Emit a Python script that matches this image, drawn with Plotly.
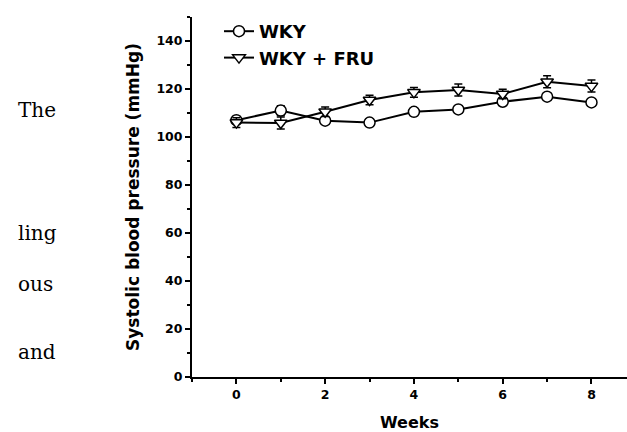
import plotly.graph_objects as go

weeks = [0, 1, 2, 3, 4, 5, 6, 7, 8]
wky = [107.0, 111.0, 106.8, 106.0, 110.5, 111.5, 114.7, 116.8, 114.4]
wky_err = [1.5, 2.0, 1.5, 1.0, 1.5, 1.5, 1.5, 1.5, 1.5]
wky_fru = [106.0, 105.8, 110.5, 115.4, 118.6, 119.6, 117.9, 123.0, 121.2]
wky_fru_err = [2.0, 2.5, 2.0, 2.0, 2.0, 2.5, 2.0, 2.5, 2.5]
series_names = ["WKY", "WKY + FRU"]
side_words = ["The", "ling", "ous", "and"]
side_baselines_px = [116, 239, 290, 358]

W, H = 627, 432
L, R, T, B = 192, 0, 17, 55
PW, PH = W - L - R, H - T - B

fig = go.Figure()
fig.add_trace(go.Scatter(
    x=weeks, y=wky, name=series_names[0], mode="lines+markers",
    line=dict(color="black", width=2),
    marker=dict(symbol="circle", size=11, color="white", line=dict(color="black", width=1.5)),
    error_y=dict(type="data", array=wky_err, color="black", thickness=1.5, width=4),
))
fig.add_trace(go.Scatter(
    x=weeks, y=wky_fru, name=series_names[1], mode="lines+markers",
    line=dict(color="black", width=2),
    marker=dict(symbol="triangle-down", size=11, color="white", line=dict(color="black", width=1.5)),
    error_y=dict(type="data", array=wky_fru_err, color="black", thickness=1.5, width=4),
))

bold = dict(family="DejaVu Sans", weight="bold", color="black")

fig.update_xaxes(
    range=[-1, 8.8], tick0=0, dtick=2, showline=True, linewidth=2, linecolor="black",
    ticks="outside", ticklen=5, tickwidth=2, tickcolor="black",
    minor=dict(ticks="outside", dtick=1, tick0=0, ticklen=3, tickwidth=2, tickcolor="black"),
    showgrid=False, zeroline=False, tickfont=dict(size=12.5, **bold),
    title=dict(text="Weeks", font=dict(size=16, **bold), standoff=17),
)
fig.update_yaxes(
    range=[0, 150], tick0=0, dtick=20, showline=True, linewidth=2, linecolor="black",
    ticks="outside", ticklen=5, tickwidth=2, tickcolor="black",
    minor=dict(ticks="outside", dtick=10, tick0=0, ticklen=3, tickwidth=2, tickcolor="black"),
    showgrid=False, zeroline=False, tickfont=dict(size=12.5, **bold),
    title=dict(text="Systolic blood pressure (mmHg)", font=dict(size=17, **bold), standoff=12),
)

for word, base in zip(side_words, side_baselines_px):
    fig.add_annotation(
        text=word, xref="paper", yref="paper",
        x=(16 - L) / PW, y=(H - B - (base - 6)) / PH,
        xanchor="left", yanchor="middle", showarrow=False,
        font=dict(family="DejaVu Serif", size=20, color="black"),
    )

fig.update_layout(
    width=W, height=H, margin=dict(l=L, r=R, t=T, b=B, pad=0),
    paper_bgcolor="white", plot_bgcolor="white",
    showlegend=True,
    legend=dict(x=(219 - L) / PW, y=(H - B - 13) / PH, xanchor="left", yanchor="top",
                bgcolor="rgba(0,0,0,0)", font=dict(size=18, **bold), tracegroupgap=0),
)

fig.write_html("out.html")
